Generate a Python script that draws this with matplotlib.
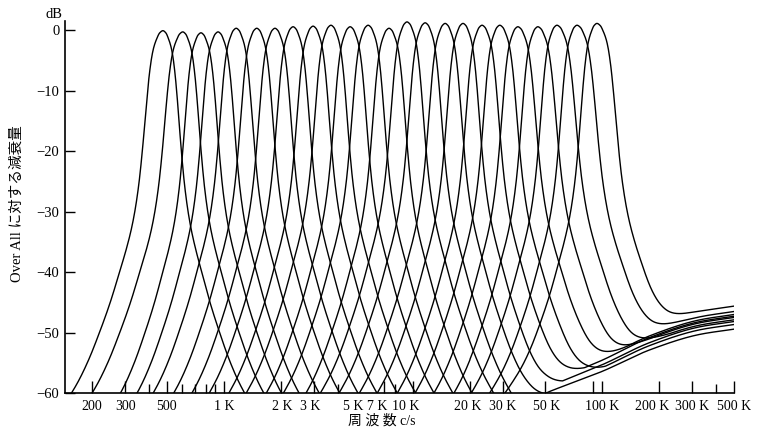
import numpy as np
import matplotlib
matplotlib.use("Agg")
import matplotlib.pyplot as plt
from matplotlib.ticker import NullFormatter, NullLocator

# ---------------- data ----------------
# centre frequencies of the 1/3-octave filters (Hz)
centers = [475, 605, 755, 930, 1160, 1490, 1860, 2320, 2960, 3680, 4650, 5790,
           7470, 9300, 11600, 14800, 18400, 23200, 28800, 35900, 45800, 57800,
           73800, 94100]
# peak level of each filter (dB re over-all)
peak_db = [-0.1, -0.3, -0.45, -0.3, 0.3, 0.3, 0.3, 0.55, 0.65, 0.8, 0.55, 0.8,
           0.3, 1.35, 1.2, 1.1, 1.1, 0.8, 0.8, 0.55, 0.55, 0.8, 0.8, 1.1]
# common skirt shape: distance from centre (octaves) -> attenuation (dB)
shape_oct = [0.0, 0.05, 0.10, 0.14, 0.17, 0.21, 0.25, 0.29, 0.33, 0.38, 0.44,
             0.50, 0.58, 0.67, 0.83, 1.00, 1.17, 1.33, 1.50, 1.75]
shape_db = [0.0, -0.35, -1.4, -2.6, -4.0, -6.9, -11.0, -15.9, -20.6, -25.5,
            -29.8, -33.0, -36.3, -39.5, -45.0, -50.0, -54.5, -58.0, -61.0, -65.0]
# skirt width factors (low side / high side) per filter
left_scale = [1.12, 1.12, 1.0, 1.0, 1.0, 1.0, 1.0, 1.0, 1.0, 1.0, 1.0, 1.0,
              1.0, 1.0, 1.0, 1.0, 1.0, 1.0, 1.0, 1.0, 1.0, 1.0, 1.0, 1.0]
right_scale = [1.0, 1.0, 1.0, 1.0, 1.0, 1.0, 1.0, 1.0, 1.0, 1.0, 1.0, 1.0,
               1.0, 1.0, 1.0, 1.0, 1.0, 1.03, 1.06, 1.1, 1.12, 1.15, 1.18, 1.15]
# high-frequency leakage floor (Hz -> dB) and its offset per filter
floor_freq = [20000, 30000, 40000, 50000, 70000, 100000, 180000, 330000, 500000]
floor_db = [-72.0, -67.0, -63.5, -60.5, -57.8, -55.4, -51.3, -48.6, -47.7]
floor_offset = [np.nan] * 15 + [-1.9, -0.6, 0.3, -1.1, 0.6, 0.1, -0.3, 1.1, 2.0]

# frequency axis: tick marks and label placement
tick_major = [200, 300, 500, 1000, 2000, 3000, 7000, 10000, 20000, 30000,
              50000, 90000, 100000, 200000, 300000, 500000]
tick_minor = [400, 600, 700, 800, 900, 4000, 8000, 400000]
label_freq = [200, 300, 493, 1000, 2030, 2850, 4800, 6450, 9100, 19500, 29900,
              51000, 100000, 184000, 300000, 500000]
label_text = ["200", "300", "500", "1 K", "2 K", "3 K", "5 K", "7 K", "10 K",
              "20 K", "30 K", "50 K", "100 K", "200 K", "300 K", "500 K"]
y_ticks = [0, -10, -20, -30, -40, -50, -60]
y_labels = ["0", "\u221210", "\u221220", "\u221230", "\u221240", "\u221250", "\u221260"]


def pchip(xk, yk, x):
    xk = np.asarray(xk, float)
    yk = np.asarray(yk, float)
    h = np.diff(xk)
    d = np.diff(yk) / h
    m = np.zeros_like(yk)
    for i in range(1, len(xk) - 1):
        if d[i - 1] * d[i] > 0:
            w1 = 2 * h[i] + h[i - 1]
            w2 = h[i] + 2 * h[i - 1]
            m[i] = (w1 + w2) / (w1 / d[i - 1] + w2 / d[i])
    m[0] = d[0]
    m[-1] = d[-1]
    x = np.clip(x, xk[0], xk[-1])
    idx = np.clip(np.searchsorted(xk, x) - 1, 0, len(xk) - 2)
    t = (x - xk[idx]) / h[idx]
    h00 = 2 * t**3 - 3 * t**2 + 1
    h10 = t**3 - 2 * t**2 + t
    h01 = -2 * t**3 + 3 * t**2
    h11 = t**3 - t**2
    return (h00 * yk[idx] + h10 * h[idx] * m[idx] + h01 * yk[idx + 1]
            + h11 * h[idx] * m[idx + 1])


# ---------------- figure ----------------
fig = plt.figure(figsize=(7.68, 4.29), dpi=100)
ax = fig.add_axes([65 / 768, 1 - 393 / 429, (734 - 65) / 768, (393 - 21) / 429])

serif = ["Liberation Serif", "DejaVu Serif"]
mixed = ["Liberation Serif", "Noto Sans CJK JP", "DejaVu Sans"]

f = np.logspace(np.log10(140), np.log10(520000), 3000)
so = np.array(shape_oct)
sd = np.array(shape_db)
lf_floor = np.log2(np.array(floor_freq, float))
for i, fc in enumerate(centers):
    xo = np.concatenate([-so[::-1][:-1] * left_scale[i], so * right_scale[i]])
    yd = np.concatenate([sd[::-1][:-1], sd]) + peak_db[i]
    r = pchip(xo, yd, np.log2(f / fc))
    if not np.isnan(floor_offset[i]):
        fl = pchip(lf_floor, floor_db, np.log2(f)) + floor_offset[i]
        fl = np.where(f < floor_freq[0], -90, fl)
        r = 10 * np.log10(10 ** (r / 10) + 10 ** (fl / 10))
    ax.plot(f, r, color="black", lw=1.0)

ax.set_xscale("log")
ax.set_xlim(144, 500000)
ax.set_ylim(-60, 1.5)

for s in ["top", "right"]:
    ax.spines[s].set_visible(False)
for s in ["left", "bottom"]:
    ax.spines[s].set_linewidth(1.2)

ax.set_xticks(tick_major)
ax.set_xticks(tick_minor, minor=True)
ax.xaxis.set_major_formatter(NullFormatter())
ax.xaxis.set_minor_formatter(NullFormatter())
ax.tick_params(axis="x", which="major", direction="in", length=9, width=1.0)
ax.tick_params(axis="x", which="minor", direction="in", length=6.5, width=1.0)

sec = ax.secondary_xaxis("bottom")
sec.set_xticks(label_freq, label_text)
sec.xaxis.set_minor_locator(NullLocator())
sec.tick_params(axis="x", length=0, pad=5, labelsize=10)
for lab in sec.get_xticklabels():
    lab.set_fontfamily(serif)
sec.spines["bottom"].set_visible(False)

ax.set_yticks(y_ticks)
ax.set_yticklabels(y_labels, fontfamily=serif, fontsize=10.5)
ax.tick_params(axis="y", direction="in", length=7, width=1.0, pad=4)

fig.text(54 / 768, 1 - 14 / 429, "dB", ha="center", va="center",
         fontfamily=serif, fontsize=10.5)
fig.text(382 / 768, 1 - 421 / 429, "周 波 数 c/s", ha="center", va="center",
         fontfamily=mixed, fontsize=10)
fig.text(17 / 768, 1 - 204 / 429, "Over All に対する減衰量", ha="center",
         va="center", rotation=90, fontfamily=mixed, fontsize=10.5)

fig.savefig("out.png", dpi=100)
